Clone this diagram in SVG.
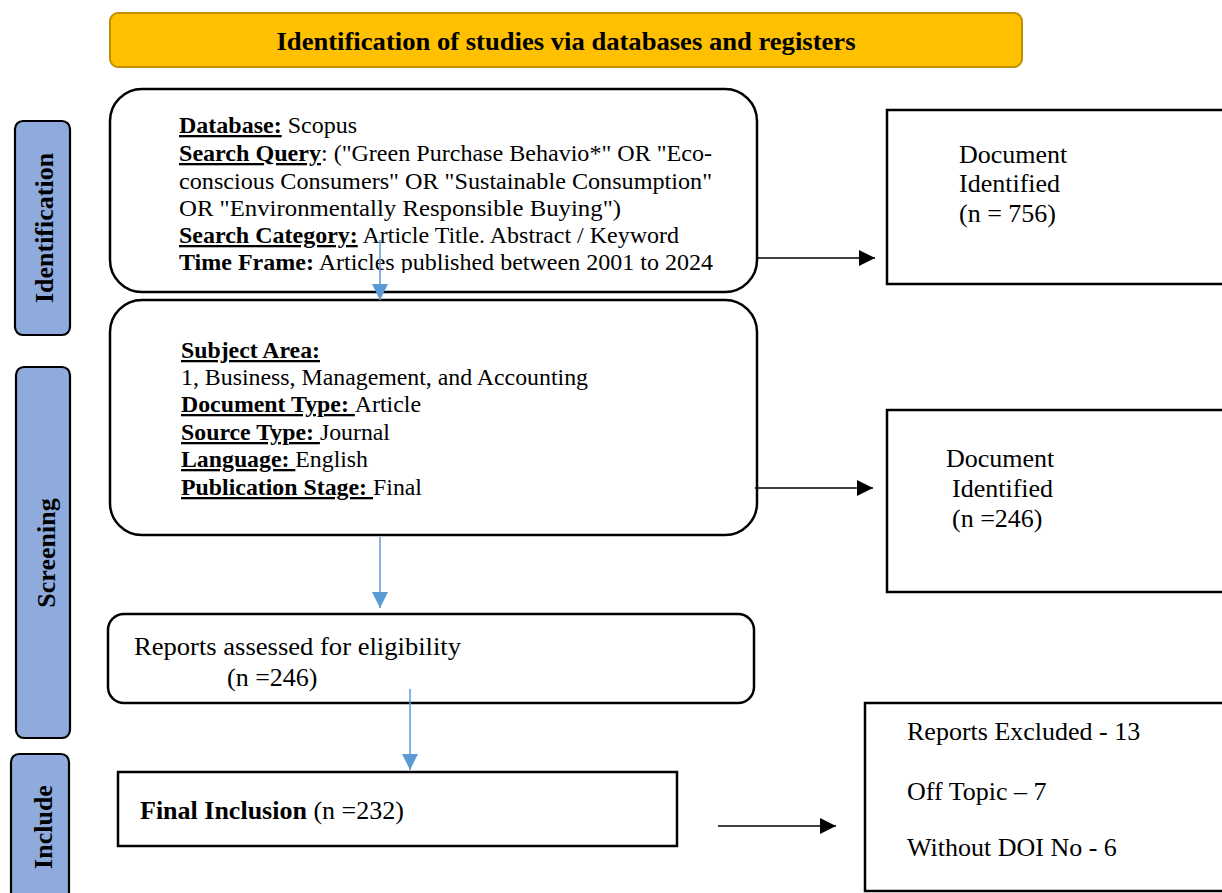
<svg xmlns="http://www.w3.org/2000/svg" width="1222" height="893" viewBox="0 0 1222 893">
<defs>
<style>
text{font-family:"Liberation Serif","Times New Roman",serif;fill:#000;}
.b{font-weight:bold;}
.u{text-decoration:underline;}
.body{font-size:23px;}
.big{font-size:26px;}
.side{font-size:26px;font-weight:bold;}
.box{fill:#fff;stroke:#000;stroke-width:2.5;}
.bar{fill:#8FAADC;stroke:#000;stroke-width:2.2;}
.k{stroke:#000;stroke-width:1.5;fill:none;}
.bl{stroke:#5B9BD5;stroke-width:1.5;fill:none;}
</style>
<marker id="ah" markerUnits="userSpaceOnUse" markerWidth="16" markerHeight="16" refX="16" refY="8" orient="auto"><path d="M0,0 L16,8 L0,16 Z" fill="#000"/></marker>
<marker id="ahb" markerUnits="userSpaceOnUse" markerWidth="16" markerHeight="16" refX="16" refY="8" orient="auto"><path d="M0,0 L16,8 L0,16 Z" fill="#5B9BD5"/></marker>
<clipPath id="c1"><rect x="110" y="89" width="647" height="184"/></clipPath>
</defs>

<g id="header">
<rect x="110" y="13" width="912" height="54" rx="8" fill="#FFC000" stroke="#BF9000" stroke-width="2"/>
<text x="566" y="50" text-anchor="middle" class="b" font-size="25" textLength="579" lengthAdjust="spacingAndGlyphs">Identification of studies via databases and registers</text>
</g>

<g id="bar-identification">
<rect class="bar" x="15" y="121" width="55" height="214" rx="8"/>
<text class="side" transform="translate(53,228) rotate(-90)" text-anchor="middle">Identification</text>
</g>
<g id="bar-screening">
<rect class="bar" x="16" y="367" width="54" height="371" rx="8"/>
<text class="side" transform="translate(55,553) rotate(-90)" text-anchor="middle">Screening</text>
</g>
<g id="bar-include">
<rect class="bar" x="11" y="754" width="58" height="160" rx="8"/>
<text class="side" transform="translate(52,827) rotate(-90)" text-anchor="middle">Include</text>
</g>

<g id="search">
<rect class="box" x="110" y="89" width="647" height="203" rx="32"/>
<g clip-path="url(#c1)" class="body">
<text x="179" y="133" textLength="178" lengthAdjust="spacingAndGlyphs"><tspan class="b u">Database:</tspan> Scopus</text>
<text x="179" y="161" textLength="533" lengthAdjust="spacingAndGlyphs"><tspan class="b u">Search Query</tspan>: ("Green Purchase Behavio*" OR "Eco-</text>
<text x="179" y="189" textLength="533" lengthAdjust="spacingAndGlyphs">conscious Consumers" OR "Sustainable Consumption"</text>
<text x="179" y="216" textLength="442" lengthAdjust="spacingAndGlyphs">OR "Environmentally Responsible Buying")</text>
<text x="179" y="243" textLength="500" lengthAdjust="spacingAndGlyphs"><tspan class="b u">Search Category:</tspan> Article Title. Abstract / Keyword</text>
<text x="179" y="270" textLength="534" lengthAdjust="spacingAndGlyphs"><tspan class="b">Time Frame:</tspan> Articles published between 2001 to 2024</text>
</g>
</g>

<g id="filters">
<rect class="box" x="110" y="300" width="647" height="235" rx="32"/>
<g class="body">
<text x="181" y="358" textLength="139" lengthAdjust="spacingAndGlyphs"><tspan class="b u">Subject Area:</tspan></text>
<text x="181" y="385" textLength="407" lengthAdjust="spacingAndGlyphs">1, Business, Management, and Accounting</text>
<text x="181" y="412" textLength="240" lengthAdjust="spacingAndGlyphs"><tspan class="b u">Document Type: </tspan>Article</text>
<text x="181" y="440" textLength="209" lengthAdjust="spacingAndGlyphs"><tspan class="b u">Source Type: </tspan>Journal</text>
<text x="181" y="467" textLength="187" lengthAdjust="spacingAndGlyphs"><tspan class="b u">Language: </tspan>English</text>
<text x="181" y="495" textLength="241" lengthAdjust="spacingAndGlyphs"><tspan class="b u">Publication Stage: </tspan>Final</text>
</g>
</g>

<g id="identified-756">
<rect class="box" x="887" y="110" width="345" height="174"/>
<text class="big" x="959" y="163">Document</text>
<text class="big" x="959" y="192">Identified</text>
<text class="big" x="959" y="222">(n = 756)</text>
</g>

<g id="identified-246">
<rect class="box" x="887" y="410" width="345" height="182"/>
<text class="big" x="946" y="467">Document</text>
<text class="big" x="952" y="497">Identified</text>
<text class="big" x="952" y="527">(n =246)</text>
</g>

<g id="eligibility">
<rect class="box" x="108" y="614" width="646" height="89" rx="16"/>
<text class="big" x="134" y="655" textLength="327" lengthAdjust="spacingAndGlyphs">Reports assessed for eligibility</text>
<text class="big" x="227" y="686">(n =246)</text>
</g>

<g id="final-inclusion">
<rect class="box" x="118" y="772" width="559" height="74"/>
<text class="big" x="140" y="819"><tspan class="b">Final Inclusion</tspan> (n =232)</text>
</g>

<g id="excluded">
<rect class="box" x="865" y="703" width="367" height="188"/>
<text class="big" x="907" y="740">Reports Excluded - 13</text>
<text class="big" x="907" y="800">Off Topic – 7</text>
<text class="big" x="907" y="856">Without DOI No - 6</text>
</g>

<g id="connectors">
<line class="k" x1="757" y1="258" x2="875" y2="258" marker-end="url(#ah)"/>
<line class="k" x1="755" y1="488" x2="873" y2="488" marker-end="url(#ah)"/>
<line class="k" x1="718" y1="826" x2="836" y2="826" marker-end="url(#ah)"/>
<line class="bl" x1="380" y1="240" x2="380" y2="300" marker-end="url(#ahb)"/>
<line class="bl" x1="380" y1="537" x2="380" y2="608" marker-end="url(#ahb)"/>
<line class="bl" x1="410" y1="689" x2="410" y2="770" marker-end="url(#ahb)"/>
</g>
</svg>
